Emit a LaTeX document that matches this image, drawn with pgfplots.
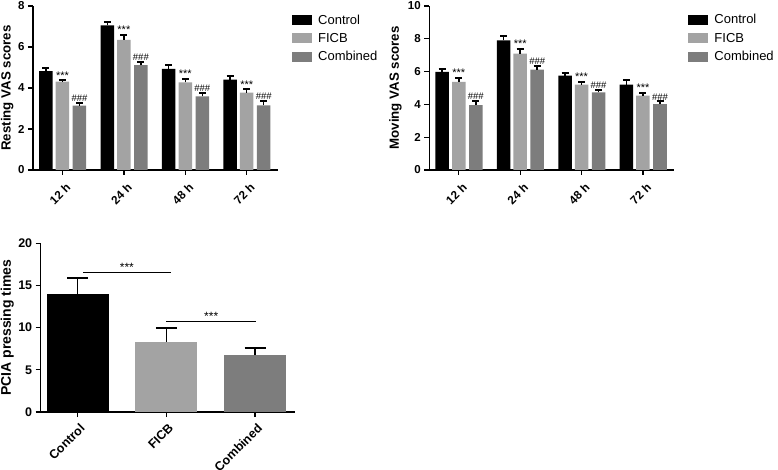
\documentclass[border=0pt]{standalone}
\usepackage{fontspec}
\setmainfont{Liberation Sans}
\usepackage{pgfplots}
\pgfplotsset{compat=1.18}
\definecolor{cA}{HTML}{000000}
\definecolor{cB}{HTML}{A3A3A3}
\definecolor{cC}{HTML}{7D7D7D}
\newcommand{\fs}[1]{\fontsize{#1}{#1}\selectfont}
\pgfplotsset{
 base/.style={
  scale only axis,
  axis x line*=bottom, axis y line*=left,
  axis line style={line width=1.3pt, black},
  tick style={line width=1.3pt, black},
  tick align=outside,
  major tick length=5pt,
  minor tick num=0,
  /pgf/number format/assume math mode=true,
  yticklabel style={font=\bfseries\fs{11.5}},
  ymin=0,
  clip=false,
 },
 errs/.style={/pgfplots/error bars/y dir=plus, /pgfplots/error bars/y explicit,
   /pgfplots/error bars/error bar style={line width=1.5pt,black},
   /pgfplots/error bars/error mark options={rotate=90, line width=2pt, black, mark size=#1}},
 errs/.default=3.5pt,
 leg/.style={legend image code/.code={\fill[##1] (0pt,-5pt) rectangle (20pt,5pt); \path (25pt,0pt);}},
 ann/.style={draw=none, fill=none, forget plot, nodes near coords, point meta=explicit symbolic,
   every node near coord/.append style={font=\fs{#1}, inner sep=1.2pt, anchor=south, black}},
 top/.style={base, ybar, bar width=0.22, width=245pt, height=164pt,
   xmin=-0.48, xmax=3.51, xtick={0,1,2,3}, xticklabels={12 h,24 h,48 h,72 h},
   xticklabel style={font=\bfseries\fs{11.8}, rotate=45, anchor=north east, inner sep=3pt, yshift=-4pt},
   ylabel style={font=\bfseries\fs{13.3}, anchor=south},
   legend style={draw=none, fill=none, at={(1.057,0.955)}, anchor=north west, font=\fs{13},
     inner sep=0pt, row sep=5.5pt, nodes={inner sep=1pt}},
   legend cell align=left},
}
\begin{document}
\begin{tikzpicture}[x=1pt,y=1pt]
\useasboundingbox (0,0) rectangle (778,469);
% ---------- Resting VAS ----------
\begin{axis}[top, at={(33pt,299pt)}, anchor=south west, ymax=8, ytick={0,2,4,6,8},
  ylabel={Resting VAS scores}, ylabel style={at={(axis description cs:-0.065,0.5)}}]
\addplot[leg, fill=cA, draw=none, bar shift=-0.27, errs] coordinates
 {(0,4.82) +- (0,0.17) (1,7.06) +- (0,0.17) (2,4.93) +- (0,0.21) (3,4.41) +- (0,0.17)};
\addlegendentry{Control}
\addplot[leg, fill=cB, draw=none, bar shift=0, errs] coordinates
 {(0,4.31) +- (0,0.06) (1,6.35) +- (0,0.25) (2,4.28) +- (0,0.14) (3,3.77) +- (0,0.16)};
\addlegendentry{FICB}
\addplot[leg, fill=cC, draw=none, bar shift=0.277, errs] coordinates
 {(0,3.14) +- (0,0.14) (1,5.11) +- (0,0.16) (2,3.59) +- (0,0.18) (3,3.15) +- (0,0.24)};
\addlegendentry{Combined}
\addplot[ann=11, bar shift=0] coordinates {(0,4.37)[***] (1,6.6)[***] (2,4.42)[***] (3,3.93)[***]};
\addplot[ann=9.5, bar shift=0.277] coordinates {(0,3.28)[\#\#\#] (1,5.27)[\#\#\#] (2,3.77)[\#\#\#] (3,3.39)[\#\#\#]};
\end{axis}
% ---------- Moving VAS ----------
\begin{axis}[top, at={(429.3pt,299pt)}, anchor=south west, ymax=10, ytick={0,2,4,6,8,10},
  ylabel={Moving VAS scores}, ylabel style={at={(axis description cs:-0.098,0.5)}}]
\addplot[leg, fill=cA, draw=none, bar shift=-0.27, errs] coordinates
 {(0,5.98) +- (0,0.16) (1,7.9) +- (0,0.26) (2,5.76) +- (0,0.14) (3,5.2) +- (0,0.31)};
\addlegendentry{Control}
\addplot[leg, fill=cB, draw=none, bar shift=0, errs] coordinates
 {(0,5.37) +- (0,0.24) (1,7.1) +- (0,0.27) (2,5.2) +- (0,0.17) (3,4.53) +- (0,0.16)};
\addlegendentry{FICB}
\addplot[leg, fill=cC, draw=none, bar shift=0.277, errs] coordinates
 {(0,3.96) +- (0,0.26) (1,6.12) +- (0,0.21) (2,4.73) +- (0,0.15) (3,4.02) +- (0,0.16)};
\addlegendentry{Combined}
\addplot[ann=11, bar shift=0] coordinates {(0,5.61)[***] (1,7.37)[***] (2,5.37)[***] (3,4.69)[***]};
\addplot[ann=9.5, bar shift=0.277] coordinates {(0,4.22)[\#\#\#] (1,6.33)[\#\#\#] (2,4.88)[\#\#\#] (3,4.18)[\#\#\#]};
\end{axis}
% ---------- PCIA ----------
\begin{axis}[base, at={(40.7pt,57pt)}, anchor=south west, width=254.3pt, height=168.7pt,
  ymax=20, ytick={0,5,10,15,20}, yticklabel style={font=\bfseries\fs{12.5}},
  xmin=-0.417, xmax=2.45, xtick={0,1,2}, xticklabels={Control,FICB,Combined},
  xticklabel style={font=\bfseries\fs{12.5}, rotate=45, anchor=north east, inner sep=3pt, yshift=-2pt},
  ylabel={PCIA pressing times},
  ylabel style={font=\bfseries\fs{14}, at={(axis description cs:-0.092,0.5)}, anchor=south}]
\addplot[ybar, bar width=0.7, bar shift=0, fill=cA, draw=none, errs=10.5pt] coordinates {(0,14.0) +- (0,1.92)};
\addplot[ybar, bar width=0.7, bar shift=0, fill=cB, draw=none, errs=10.5pt] coordinates {(1,8.31) +- (0,1.64)};
\addplot[ybar, bar width=0.7, bar shift=0, fill=cC, draw=none, errs=10.5pt] coordinates {(2,6.7) +- (0,0.92)};
\addplot[black, line width=1.3pt, forget plot] coordinates {(0.06,16.56) (1.05,16.56)}
  node[pos=0.5, above, font=\fs{12}, inner sep=0.5pt] {***};
\addplot[black, line width=1.3pt, forget plot] coordinates {(1.0,10.7) (2.01,10.7)}
  node[pos=0.5, above, font=\fs{12}, inner sep=0.5pt] {***};
\end{axis}
\end{tikzpicture}
\end{document}
